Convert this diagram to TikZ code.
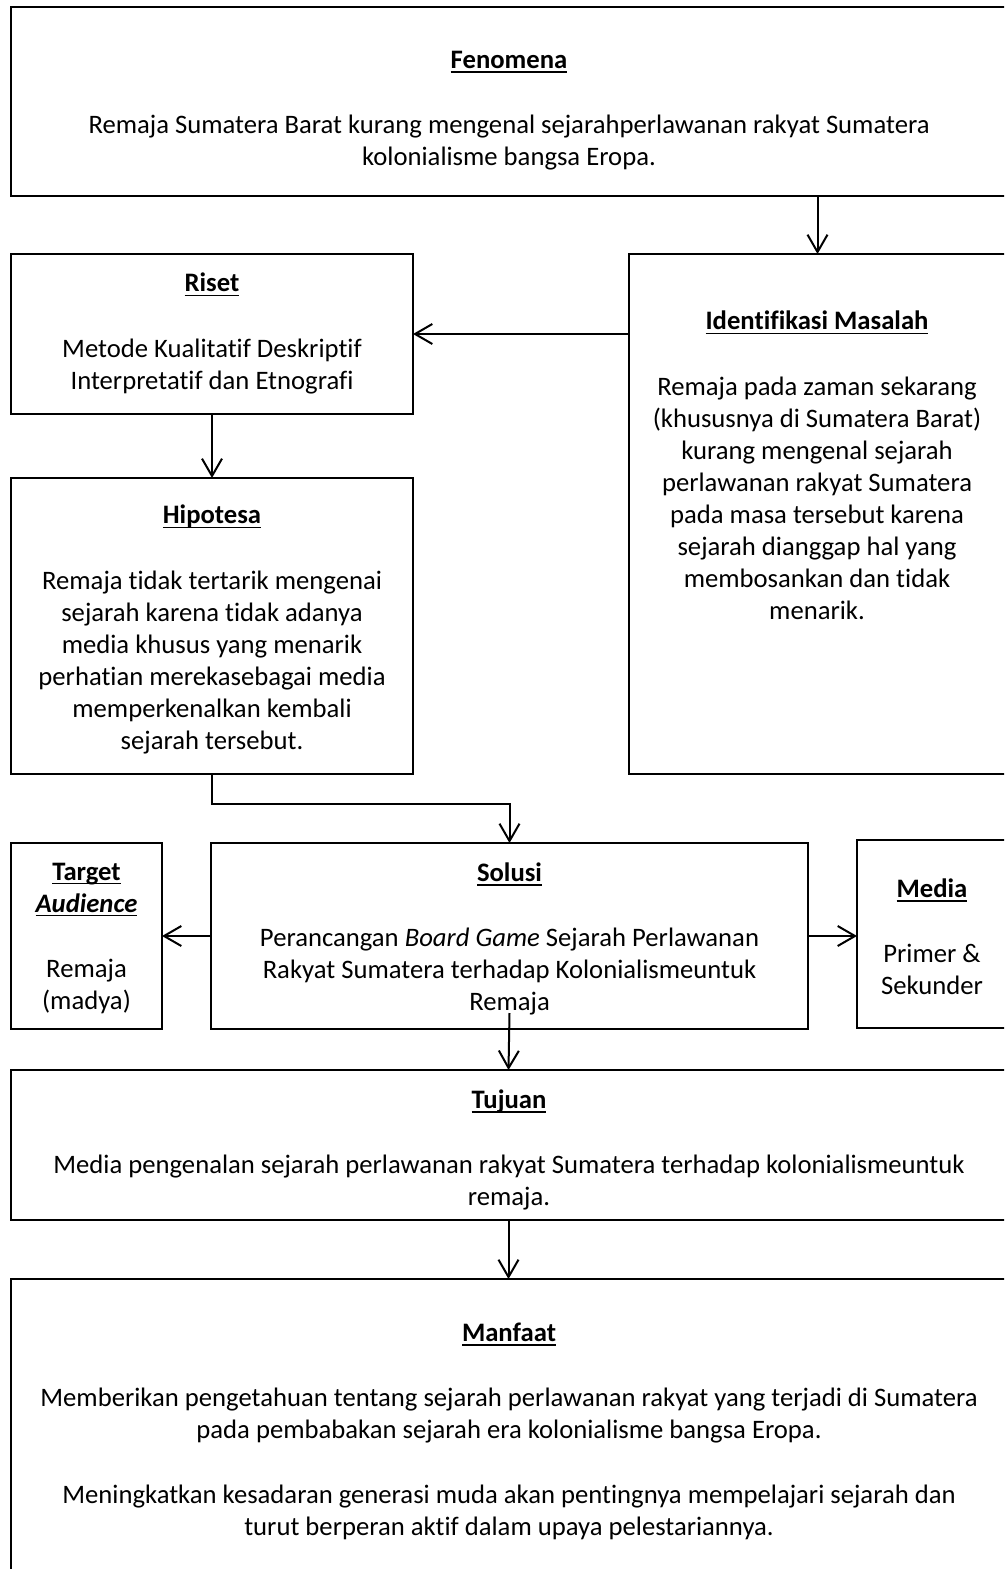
\documentclass[tikz,border=0pt]{standalone}
\usepackage{fontspec}
\setmainfont{Carlito}[RawFeature={-liga;-clig;-dlig;-calt}]
\usetikzlibrary{arrows.meta}
\newdimen\pxu \pxu=0.75pt
\newcommand\hd[1]{\setbox0\hbox{\textbf{#1}}\rlap{\rule[-3.2pt]{\wd0}{1.3pt}}\box0}
\begin{document}
\begin{tikzpicture}[x=0.75pt,y=-0.75pt,
  box/.style={draw, line width=1.5pt, inner sep=0pt, outer sep=0pt, anchor=north west},
  txt/.style={align=center, inner sep=0pt, anchor=north, font=\fontsize{20}{24}\selectfont,
    execute at begin node={\rule{0pt}{18pt}}},
  conn/.style={line width=1.5pt, -{Straight Barb[length=13pt,width=15pt,line width=1.5pt]}}]
\useasboundingbox (0,0) rectangle (1004,1569);
\clip (0,0) rectangle (1004,1569);
% boxes
\node[box, minimum width=995\pxu, minimum height=189\pxu] (fen) at (11,7) {};
\node[box, minimum width=402\pxu, minimum height=160\pxu] (riset) at (11,254) {};
\node[box, minimum width=377\pxu, minimum height=520\pxu] (idm) at (629,254) {};
\node[box, minimum width=402\pxu, minimum height=296\pxu] (hip) at (11,478) {};
\node[box, minimum width=151\pxu, minimum height=186\pxu] (target) at (11,843) {};
\node[box, minimum width=597\pxu, minimum height=186\pxu] (solusi) at (211,843) {};
\node[box, minimum width=149\pxu, minimum height=188\pxu] (media) at (857,840) {};
\node[box, minimum width=995\pxu, minimum height=150\pxu] (tujuan) at (11,1070) {};
\node[box, minimum width=995\pxu, minimum height=311\pxu] (manfaat) at (11,1279) {};
% texts
\node[txt] (tfen) at (509,51) {\hd{Fenomena}\\[25pt]Remaja Sumatera Barat kurang mengenal sejarahperlawanan rakyat Sumatera\\kolonialisme bangsa Eropa.};
\node[txt] (triset) at (212,273) {\hd{Riset}\\[25pt]Metode Kualitatif Deskriptif\\Interpretatif dan Etnografi};
\node[txt] (tidm) at (817,311) {\hd{Identifikasi Masalah}\\[25pt]Remaja pada zaman sekarang\\(khususnya di Sumatera Barat)\\kurang mengenal sejarah\\perlawanan rakyat Sumatera\\pada masa tersebut karena\\sejarah dianggap hal yang\\membosankan dan tidak\\menarik.};
\node[txt] (thip) at (212,505) {\hd{Hipotesa}\\[25pt]Remaja tidak tertarik mengenai\\sejarah karena tidak adanya\\media khusus yang menarik\\perhatian merekasebagai media\\memperkenalkan kembali\\sejarah tersebut.};
\node[txt] (ttarget) at (86.5,862.5) {\hd{Target}\\\hd{\textit{Audience}}\\[25pt]Remaja\\(madya)};
\node[txt] (tsolusi) at (509.5,862.5) {\hd{Solusi}\\[25pt]Perancangan \textit{Board Game} Sejarah Perlawanan\\Rakyat Sumatera terhadap Kolonialismeuntuk\\Remaja};
\node[txt] (tmedia) at (932,878.5) {\hd{Media}\\[25pt]Primer \&\\Sekunder};
\node[txt] (ttujuan) at (509,1089.5) {\hd{Tujuan}\\[25pt]Media pengenalan sejarah perlawanan rakyat Sumatera terhadap kolonialismeuntuk\\remaja.};
\node[txt] (tmanfaat) at (509,1322.5) {\hd{Manfaat}\\[25pt]Memberikan pengetahuan tentang sejarah perlawanan rakyat yang terjadi di Sumatera\\pada pembabakan sejarah era kolonialisme bangsa Eropa.\\[25pt]Meningkatkan kesadaran generasi muda akan pentingnya mempelajari sejarah dan\\turut berperan aktif dalam upaya pelestariannya.};
% connectors
\draw[conn] (idm.north |- fen.south) -- (idm.north);
\draw[conn] (idm.west |- riset.east) -- (riset.east);
\draw[conn] (riset.south) -- (hip.north);
\draw[conn] (hip.south) -- ++(0,30) -| (solusi.north);
\draw[conn] (solusi.west) -- (solusi.west -| target.east);
\draw[conn] (solusi.east) -- (solusi.east -| media.west);
\draw[conn] (solusi.south) ++(0,-16) -- (tujuan.north);
\draw[conn] (tujuan.south) -- (manfaat.north);
\end{tikzpicture}
\end{document}
